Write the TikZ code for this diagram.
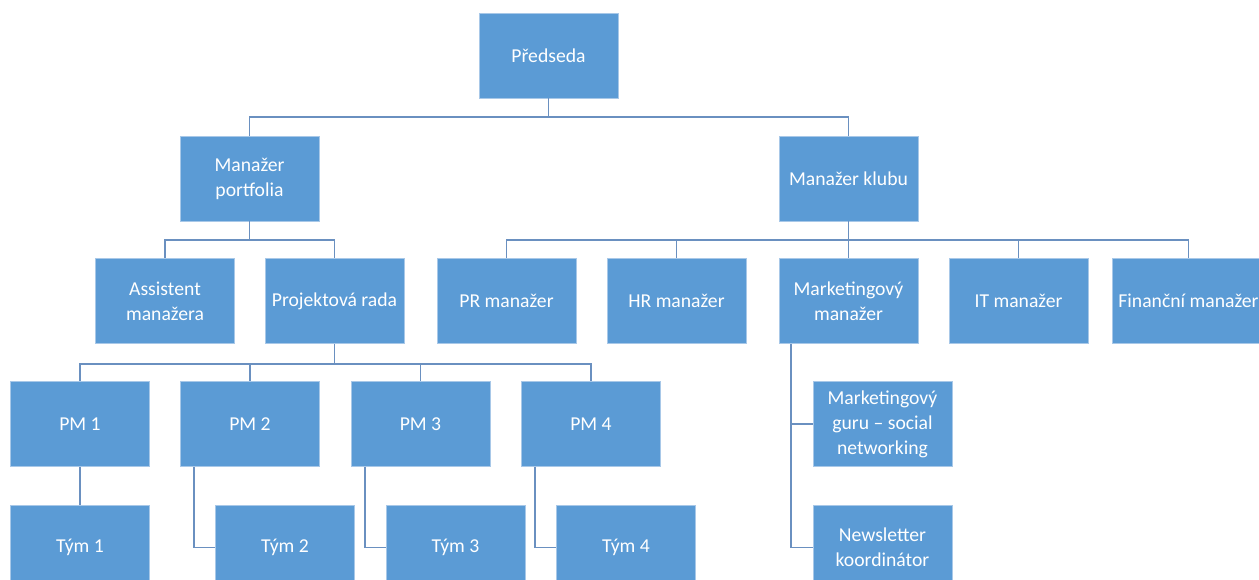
\documentclass[tikz,border=0pt]{standalone}
\usepackage{fontspec}
\setmainfont{Carlito}
\definecolor{boxblue}{HTML}{5B9BD5}
\definecolor{boxrim}{HTML}{A8C8E8}
\definecolor{linkblue}{HTML}{6A90C0}

\tikzset{
	orgbox/.style={rectangle,fill=boxblue,draw=boxrim,line width=0.5pt,text=white,
		minimum width=2.78cm,minimum height=1.7cm,align=center,font=\fontsize{11.2}{14.2}\selectfont},
	link/.style={draw=linkblue,line width=1.1pt}
}

\begin{document}
\begin{tikzpicture}[x=0.02cm,y=-0.02cm]
	\useasboundingbox (0,0) rectangle (1259,580);
	% top levels
	\node[orgbox] (chair) at (548.5,55.5) {Předseda};
	\node[orgbox] (mport) at (249.5,178.5) {Manažer\\portfolia};
	\node[orgbox] (mklub) at (848.5,178.5) {Manažer klubu};
	% third row
	\node[orgbox] (assist) at (165,301) {Assistent\\manažera};
	\node[orgbox] (prada) at (334.5,301) {Projektová rada};
	\node[orgbox] (mpr) at (506.5,301) {PR manažer};
	\node[orgbox] (mhr) at (676.5,301) {HR manažer};
	\node[orgbox] (mmark) at (848.5,301) {Marketingový\\manažer};
	\node[orgbox] (mit) at (1018.5,301) {IT manažer};
	\node[orgbox] (mfin) at (1188.5,301) {Finanční manažer};
	% project managers and teams
	\node[orgbox] (pm1) at (80,424) {PM 1};
	\node[orgbox] (pm2) at (250,424) {PM 2};
	\node[orgbox] (pm3) at (420.5,424) {PM 3};
	\node[orgbox] (pm4) at (591,424) {PM 4};
	\node[orgbox] (team1) at (80,547.5) {Tým 1};
	\node[orgbox] (team2) at (285,547.5) {Tým 2};
	\node[orgbox] (team3) at (455.5,547.5) {Tým 3};
	\node[orgbox] (team4) at (626,547.5) {Tým 4};
	% marketing
	\node[orgbox] (guru) at (882.5,424) {Marketingový\\guru -- social\\networking};
	\node[orgbox] (news) at (882.5,547.5) {Newsletter\\koordinátor};

	% connectors
	\draw[link] (chair.south) -- ++(0,19) coordinate (chairbus)
		(chairbus) -| (mport.north)
		(chairbus) -| (mklub.north);
	\draw[link] (mport.south) -- ++(0,19) coordinate (portbus)
		(portbus) -| (assist.north)
		(portbus) -| (prada.north);
	\draw[link] (mklub.south) -- ++(0,19) coordinate (klubbus)
		(klubbus) -| (mpr.north) (klubbus) -| (mhr.north)
		(klubbus) -- (mmark.north)
		(klubbus) -| (mit.north) (klubbus) -| (mfin.north);
	\draw[link] (prada.south) -- ++(0,20) coordinate (radabus)
		(radabus) -| (pm1.north) (radabus) -| (pm2.north)
		(radabus) -| (pm3.north) (radabus) -| (pm4.north);
	\draw[link] (pm1.south) -- (team1.north)
		([xshift=0.28cm]pm2.south west) |- (team2.west)
		([xshift=0.28cm]pm3.south west) |- (team3.west)
		([xshift=0.28cm]pm4.south west) |- (team4.west);
	\draw[link] ([xshift=0.24cm]mmark.south west) |- (guru.west)
		([xshift=0.24cm]mmark.south west) |- (news.west);
\end{tikzpicture}
\end{document}
